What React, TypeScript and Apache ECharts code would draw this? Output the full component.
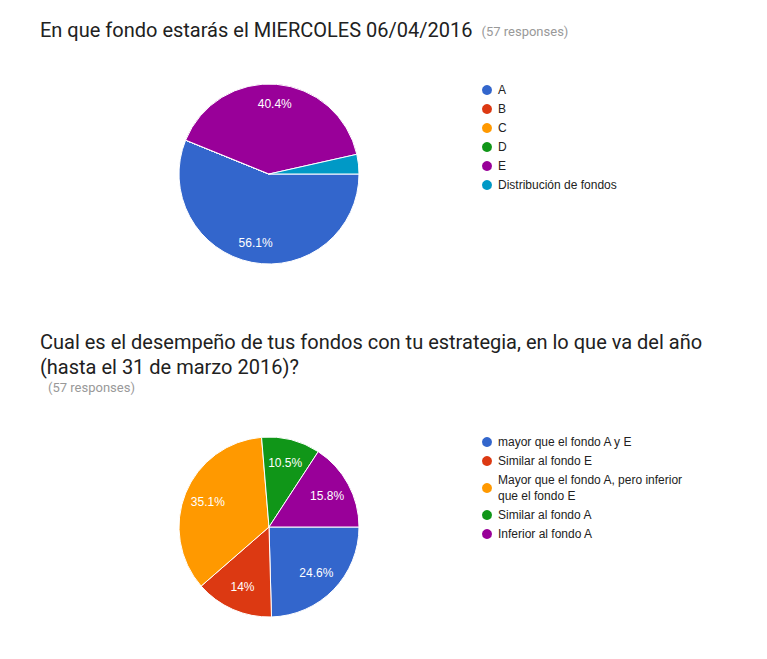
import React, { useEffect, useRef } from "react";
import * as echarts from "echarts";

const title1 = "En que fondo estarás el MIERCOLES 06/04/2016";
const title2Lines = [
  "Cual es el desempeño de tus fondos con tu estrategia, en lo que va del año",
  "(hasta el 31 de marzo 2016)?",
];
const responsesText = "(57 responses)";

const pie1Names = ["A", "B", "C", "D", "E", "Distribución de fondos"];
const pie1Values = [32, 0, 0, 0, 23, 2];
const pie1Colors = ["#3366cc", "#dc3912", "#ff9900", "#109618", "#990099", "#0099c6"];

const pie2Names = [
  "mayor que el fondo A y E",
  "Similar al fondo E",
  "Mayor que el fondo A, pero inferior que el fondo E",
  "Similar al fondo A",
  "Inferior al fondo A",
];
const pie2Values = [14, 8, 20, 6, 9];
const pie2Colors = ["#3366cc", "#dc3912", "#ff9900", "#109618", "#990099"];

const LEGEND_FONT = 'Arial, "Liberation Sans", sans-serif';
const TITLE_FONT = 'Roboto, "Noto Sans", sans-serif';

export default function App() {
  const ref = useRef<HTMLDivElement>(null);

  useEffect(() => {
    if (!ref.current) return;
    const chart = echarts.init(ref.current, undefined, { renderer: "svg" });

    const mkData = (names: string[], values: number[], colors: string[]) =>
      names.map((n, i) => ({ name: n, value: values[i], itemStyle: { color: colors[i] } }));

    const labelFmt = (p: any) => (p.percent >= 5 ? `${p.percent}%` : "");

    const pieBase = (center: number[], data: any[]) => ({
      type: "pie",
      center,
      radius: [0, 90],
      startAngle: 0,
      clockwise: true,
      avoidLabelOverlap: false,
      percentPrecision: 1,
      itemStyle: { borderColor: "#ffffff", borderWidth: 1 },
      label: { show: false },
      labelLine: { show: false },
      emphasis: { disabled: true },
      data,
    });

    const labelOverlay = (center: number[], r0: number, names: string[], values: number[]) => ({
      type: "pie",
      center,
      radius: [r0, 90],
      startAngle: 0,
      clockwise: true,
      silent: true,
      avoidLabelOverlap: false,
      percentPrecision: 1,
      itemStyle: { color: "rgba(0,0,0,0)", borderWidth: 0 },
      label: {
        show: true,
        position: "inside",
        formatter: labelFmt,
        color: "#ffffff",
        fontSize: 12,
        fontFamily: LEGEND_FONT,
      },
      labelLine: { show: false },
      emphasis: { disabled: true },
      data: names.map((n, i) => ({ name: n, value: values[i] })),
    });

    const legendCommon = {
      orient: "vertical",
      left: 480,
      padding: 0,
      icon: "circle",
      itemWidth: 12,
      itemHeight: 12,
      itemGap: 3,
      selectedMode: false,
      textStyle: {
        fontSize: 12,
        fontFamily: LEGEND_FONT,
        color: "#222222",
        lineHeight: 16,
        width: 200,
        overflow: "break",
      },
    };

    chart.setOption({
      animation: false,
      backgroundColor: "#ffffff",
      title: [
        {
          left: 40,
          top: 17,
          padding: 0,
          text: `{a|${title1}}{b|${responsesText}}`,
          textStyle: {
            fontWeight: "normal",
            rich: {
              a: { fontSize: 20, fontFamily: TITLE_FONT, fontWeight: "normal", color: "#212121", lineHeight: 26 },
              b: { fontSize: 13, fontFamily: TITLE_FONT, fontWeight: "normal", color: "#999999", padding: [0, 0, -3, 9], lineHeight: 26 },
            },
          },
        },
        {
          left: 40,
          top: 329,
          padding: 0,
          text: `{a|${title2Lines[0]}}\n{a|${title2Lines[1]}}\n{b|${responsesText}}`,
          textStyle: {
            fontWeight: "normal",
            rich: {
              a: { fontSize: 20, fontFamily: TITLE_FONT, fontWeight: "normal", color: "#212121", lineHeight: 25 },
              b: { fontSize: 13, fontFamily: TITLE_FONT, fontWeight: "normal", color: "#999999", padding: [0, 0, 0, 8], lineHeight: 16 },
            },
          },
        },
      ],
      legend: [
        { ...legendCommon, top: 82, data: pie1Names },
        { ...legendCommon, top: 434, data: pie2Names },
      ],
      series: [
        pieBase([269, 174], mkData(pie1Names, pie1Values, pie1Colors)),
        pieBase([269, 527], mkData(pie2Names, pie2Values, pie2Colors)),
        labelOverlay([269, 174], 44, pie1Names, pie1Values),
        labelOverlay([269, 527], 36, pie2Names, pie2Values),
      ],
    });

    return () => chart.dispose();
  }, []);

  return (
    <div
      ref={ref}
      style={{ position: "fixed", left: 0, top: 0, width: 767, height: 659, background: "#ffffff" }}
    />
  );
}
